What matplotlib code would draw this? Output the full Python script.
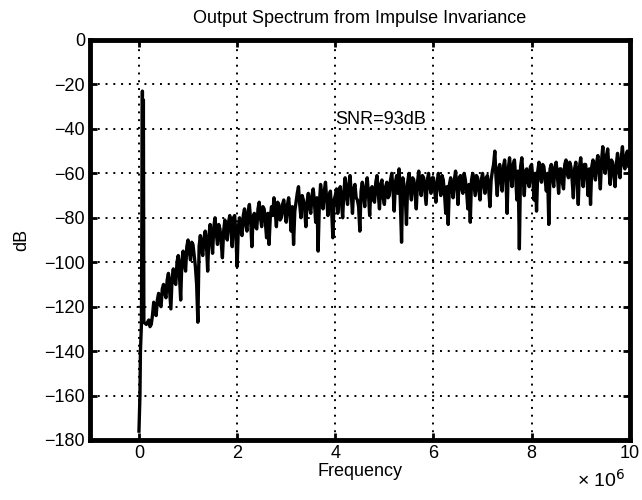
import numpy as np
import matplotlib.pyplot as plt

# spectrum, frequency in MHz, level in dB
head_freq = [0.0, 0.02, 0.03, 0.05, 0.07, 0.08, 0.09, 0.10]
head_db = [-176, -160, -140, -128, -23, -120, -27, -127]

# body sampled every 0.025 MHz from 0.15 MHz up to 10 MHz
body_start = 0.15
body_step = 0.025
body_db = [
    # 0.15 - 0.975
    -128, -127, -126, -129, -128, -124, -118, -122, -124, -117, -114, -119,
    -120, -112, -110, -114, -116, -108, -105, -113, -121, -107, -103, -109,
    -110, -100, -97, -106, -117, -99, -95, -101, -104, -93,
    # 1.0 - 1.975
    -90, -95, -99, -91, -92, -97, -102, -110, -127, -93, -88, -94, -97, -89,
    -86, -92, -104, -88, -83, -90, -96, -84, -80, -87, -92, -83, -85, -91,
    -98, -86, -81, -88, -90, -82, -79, -85, -93, -80, -79, -88,
    # 2.0 - 2.975
    -102, -84, -80, -86, -88, -79, -76, -83, -86, -77, -74, -81, -93, -80,
    -78, -84, -85, -76, -73, -80, -84, -75, -76, -82, -89, -78, -92, -80,
    -75, -79, -71, -77, -84, -73, -74, -81, -80, -74, -72, -78,
    # 3.0 - 3.975
    -82, -74, -71, -78, -86, -75, -92, -77, -73, -69, -66, -74, -80, -70,
    -72, -76, -84, -73, -69, -75, -78, -70, -67, -73, -82, -71, -95, -74,
    -65, -70, -76, -68, -64, -72, -79, -70, -68, -76, -89, -72,
    # 4.0 - 4.975
    -70, -67, -78, -71, -66, -73, -80, -68, -62, -70, -74, -65, -61, -69,
    -78, -67, -65, -71, -72, -75, -86, -68, -64, -70, -75, -66, -62, -69,
    -79, -67, -66, -72, -73, -64, -61, -69, -76, -65, -63, -71,
    # 5.0 - 5.975
    -74, -66, -64, -71, -70, -63, -60, -67, -77, -64, -61, -69, -58, -73,
    -91, -62, -65, -70, -83, -64, -60, -67, -72, -62, -63, -69, -76, -64,
    -59, -66, -70, -61, -62, -68, -74, -63, -60, -66, -69, -62,
    # 6.0 - 6.975
    -62, -68, -73, -64, -60, -66, -70, -61, -63, -69, -78, -66, -83, -65,
    -62, -67, -71, -63, -59, -66, -74, -62, -61, -67, -69, -60, -63, -68,
    -76, -65, -82, -63, -60, -65, -70, -61, -62, -68, -72, -63,
    # 7.0 - 7.975
    -60, -65, -69, -62, -61, -67, -75, -63, -59, -56, -50, -62, -70, -58,
    -56, -64, -68, -57, -54, -61, -78, -58, -53, -60, -66, -56, -54, -62,
    -72, -59, -94, -57, -53, -61, -70, -59, -58, -64, -66, -57,
    # 8.0 - 8.975
    -56, -63, -72, -60, -77, -59, -55, -61, -64, -56, -57, -63, -68, -60,
    -83, -58, -56, -62, -66, -57, -55, -61, -69, -58, -58, -64, -67, -56,
    -54, -60, -62, -55, -57, -63, -71, -58, -55, -62, -74, -57,
    # 9.0 - 10.0
    -53, -60, -66, -56, -56, -62, -70, -58, -74, -57, -54, -60, -63, -55,
    -52, -59, -67, -54, -48, -57, -60, -52, -49, -58, -65, -54, -55, -61,
    -66, -56, -51, -59, -62, -53, -48, -56, -58, -52, -50, -57, -56,
]

snr_text = "SNR=93dB"

body_freq = [body_start + body_step * i for i in range(len(body_db))]
freq = np.array(head_freq + body_freq) * 1e6
db = np.array(head_db + body_db)

plt.rcParams['font.family'] = ['Liberation Sans', 'DejaVu Sans']

fig = plt.figure(figsize=(6.42, 5.0), dpi=100)
ax = fig.add_axes([0.140, 0.12, 0.841, 0.80])

ax.plot(freq, db, color='black', linewidth=2.4)

ax.set_xlim(-1e6, 10e6)
ax.set_ylim(-180, 0)
ax.set_xticks(np.arange(0, 10.1e6, 2e6))
ax.set_xticklabels([f"{v / 1e6:g}" for v in np.arange(0, 10.1e6, 2e6)])
ax.set_yticks(np.arange(-180, 1, 20))

ax.grid(True, color='black', linestyle=(0, (1, 3)), linewidth=1.4)
for s in ax.spines.values():
    s.set_linewidth(3.5)
ax.tick_params(direction='in', length=5, width=2, labelsize=13, top=True, right=True)

ax.set_title("Output Spectrum from Impulse Invariance", fontsize=13, pad=12)
ax.set_xlabel("Frequency", fontsize=13, labelpad=1)
ax.set_ylabel("dB", fontsize=13, labelpad=10)
ax.text(4.0e6, -36, snr_text, fontsize=13, va='center', ha='left')
fig.text(0.975, 0.018, r"× 10$^6$", fontsize=14, ha='right', va='bottom')

fig.savefig("out.png", dpi=100)
